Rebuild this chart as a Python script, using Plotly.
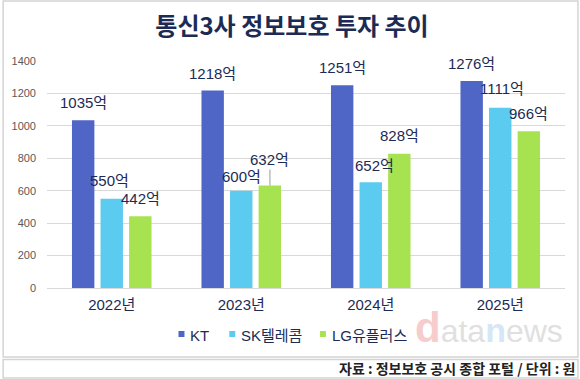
import plotly.graph_objects as go

# ---------------- data ----------------
years = ["2022년", "2023년", "2024년", "2025년"]
series_names = ["KT", "SK텔레콤", "LG유플러스"]
kt_values = [1035, 1218, 1251, 1276]
skt_values = [550, 600, 652, 1111]
lgu_values = [442, 632, 828, 966]
y_tick_values = [0, 200, 400, 600, 800, 1000, 1200, 1400]
value_unit = "억"
title_text = "통신3사 정보보호 투자 추이"
source_text = "자료 : 정보보호 공시 종합 포털 / 단위 : 원"

series_values = [kt_values, skt_values, lgu_values]

# ---------------- style ----------------
W, H = 580, 379
PL, PR, PT, PB = 45, 565, 61, 288          # plot area in pixels
colors = ["#4f66c6", "#5ccbf0", "#a7e350"]
navy = "#1c2b55"
grid = "#d9d9d9"
frame = "#d4d4d4"
FONT = "Liberation Sans, Noto Sans CJK KR, sans-serif"
KFONT = "Noto Sans CJK KR, sans-serif"
BARGAP = 0.338
GROUPGAP = 0.216
slot_px = (PR - PL) / len(years) * (1 - BARGAP) / 3
slot_offsets = [-slot_px, 0, slot_px]
# per-label fine offsets (dx, dy) in px, by series then year
label_dx = [[0, 0, 0, 0], [-2, 0, 4, 2], [0, 0, 0, 0]]
label_dy = [[18, 17, 18, 18], [18, 14, 17, 19], [18, 26, 18, 18]]
leader = [[False] * 4, [False] * 4, [False, True, False, False]]


def px(x):
    return (x - PL) / (PR - PL)


def py(y):
    return (PB - y) / (PB - PT)


fig = go.Figure()
for name, vals, c in zip(series_names, series_values, colors):
    fig.add_trace(go.Bar(
        x=years, y=vals, name=name, marker_color=c, marker_line_width=0,
        showlegend=False, hoverinfo="skip",
    ))

annotations = []
for i, vals in enumerate(series_values):
    for j, (yr, v) in enumerate(zip(years, vals)):
        a = dict(x=yr, y=v, xref="x", yref="y", text=f"{v}{value_unit}",
                 font=dict(family=FONT, size=15, color=navy),
                 xanchor="center", yanchor="middle",
                 xshift=slot_offsets[i] + label_dx[i][j])
        if leader[i][j]:
            a.update(showarrow=True, ax=0, ay=-label_dy[i][j], arrowhead=0,
                     arrowwidth=1, arrowcolor="#9a9a9a", standoff=0)
        else:
            a.update(showarrow=False, yshift=label_dy[i][j])
        annotations.append(a)

# legend (drawn manually)
legend_starts = [177, 228, 319]
shapes = []
for name, c, x0 in zip(series_names, colors, legend_starts):
    shapes.append(dict(type="rect", xref="paper", yref="paper",
                       x0=px(x0), x1=px(x0 + 6), y0=py(337), y1=py(331),
                       fillcolor=c, line_width=0))
    annotations.append(dict(xref="paper", yref="paper", x=px(x0 + 10), y=py(335),
                            text=name, showarrow=False, xanchor="left", yanchor="middle",
                            font=dict(family=FONT, size=15, color=navy)))

# watermark
annotations.append(dict(
    xref="paper", yref="paper", x=px(565), y=py(353), xanchor="right", yanchor="bottom",
    showarrow=False,
    text=("<span style='color:#f6cccc;font-size:42px;font-weight:bold'>d</span>"
          "<span style='color:#e0e0e0'>ata</span>"
          "<span style='color:#d5e7f6;font-size:34px;font-weight:bold'>n</span>"
          "<span style='color:#e0e0e0'>ews</span>"),
    font=dict(family=FONT, size=32, color="#e0e0e0")))

# source line
annotations.append(dict(xref="paper", yref="paper", x=px(577), y=py(368),
                        xanchor="right", yanchor="middle", showarrow=False,
                        text=f"<b>{source_text}</b>",
                        font=dict(family=KFONT, size=14, color="#222222")))

# frames
shapes.append(dict(type="rect", xref="paper", yref="paper", x0=px(1), x1=px(578),
                   y0=py(357), y1=py(1), line=dict(color=frame, width=1.5), layer="below"))
shapes.append(dict(type="rect", xref="paper", yref="paper", x0=px(1), x1=px(578),
                   y0=py(378), y1=py(359.5), line=dict(color=frame, width=1.5), layer="below"))

fig.update_layout(
    width=W, height=H,
    margin=dict(l=PL, r=W - PR, t=PT, b=H - PB, pad=0),
    paper_bgcolor="white", plot_bgcolor="white",
    barmode="group", bargap=BARGAP, bargroupgap=GROUPGAP,
    title=dict(text=f"<b>{title_text}</b>", xref="container", yref="container",
               x=292 / W, y=1 - 27 / H, xanchor="center", yanchor="middle",
               font=dict(family=KFONT, size=24, color=navy)),
    xaxis=dict(showgrid=False, showline=False, ticks="", zeroline=False,
               tickfont=dict(family=FONT, size=15, color=navy), ticklabelstandoff=6),
    yaxis=dict(range=[0, 1400], tickvals=y_tick_values, showgrid=True, gridcolor=grid,
               gridwidth=1, zeroline=True, zerolinecolor=grid, zerolinewidth=1.2,
               showline=False, ticks="",
               tickfont=dict(family=FONT, size=11, color="#595959"),
               ticklabelstandoff=10),
    annotations=annotations, shapes=shapes,
    showlegend=False,
)

fig.write_html("out.html")
